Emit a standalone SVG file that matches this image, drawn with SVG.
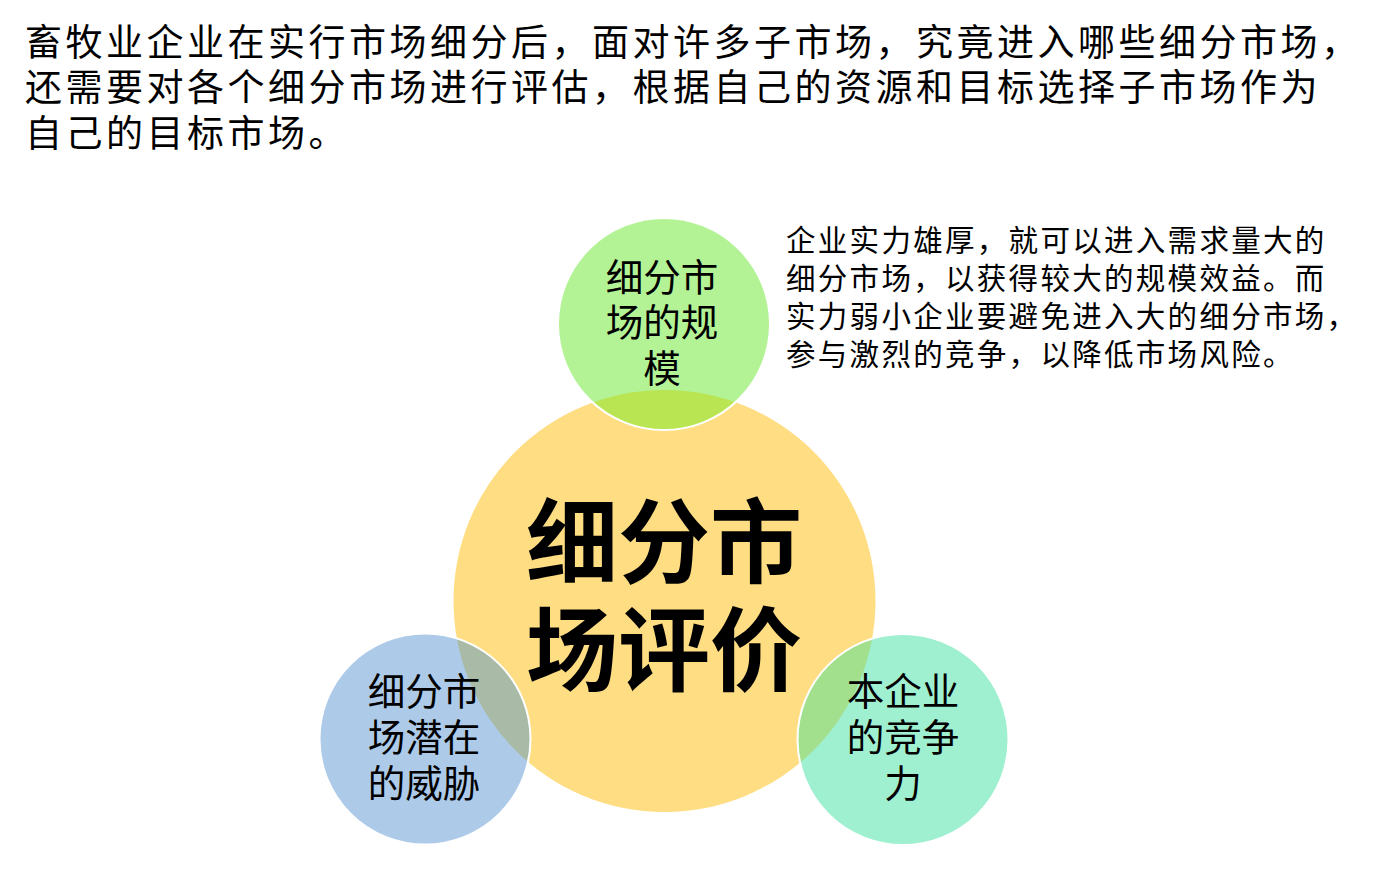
<svg xmlns="http://www.w3.org/2000/svg" width="1384" height="878" viewBox="0 0 1384 878">
  <style>
    .t { font-family: "Noto Sans CJK SC", "Noto Sans CJK JP", sans-serif; fill: #000; }
    .title { font-size: 37px; letter-spacing: 3.5px; }
    .note { font-size: 29.5px; letter-spacing: 2.3px; }
    .small { font-size: 37.5px; text-anchor: middle; }
    .big { font-size: 92px; font-weight: bold; text-anchor: middle; }
    .outline { fill: none; stroke: #ffffff; stroke-width: 2; }
  </style>
  <defs>
    <clipPath id="clipCenter">
      <circle cx="664.5" cy="601" r="211"/>
    </clipPath>
  </defs>
  <rect width="1384" height="878" fill="#ffffff"/>

  <g id="intro-text">
    <text class="t title" x="25" y="55.5">畜牧业企业在实行市场细分后，面对许多子市场，究竟进入哪些细分市场，</text>
    <text class="t title" x="25" y="101">还需要对各个细分市场进行评估，根据自己的资源和目标选择子市场作为</text>
    <text class="t title" x="25" y="146.5">自己的目标市场。</text>
  </g>

  <g id="note-text">
    <text class="t note" x="786" y="251">企业实力雄厚，就可以进入需求量大的</text>
    <text class="t note" x="786" y="289">细分市场，以获得较大的规模效益。而</text>
    <text class="t note" x="786" y="327">实力弱小企业要避免进入大的细分市场，</text>
    <text class="t note" x="786" y="364.5">参与激烈的竞争，以降低市场风险。</text>
  </g>

  <g id="node-center">
    <circle cx="664.5" cy="601" r="211" fill="#ffdd82"/>
    <text class="t big" x="664" y="576">细分市</text>
    <text class="t big" x="664" y="684">场评价</text>
  </g>

  <g id="node-size">
    <circle cx="664" cy="324" r="106" fill="#b3f396"/>
    <circle cx="664" cy="324" r="106" fill="#b9e553" clip-path="url(#clipCenter)"/>
    <text class="t small" x="662" y="290.5">细分市</text>
    <text class="t small" x="662" y="336">场的规</text>
    <text class="t small" x="662" y="381.5">模</text>
    <circle class="outline" cx="664" cy="324" r="106"/>
  </g>

  <g id="node-threat">
    <circle cx="425" cy="739" r="105.5" fill="#adcbe9"/>
    <circle cx="425" cy="739" r="105.5" fill="#a9bba6" clip-path="url(#clipCenter)"/>
    <text class="t small" x="424" y="704.5">细分市</text>
    <text class="t small" x="424" y="750.5">场潜在</text>
    <text class="t small" x="424" y="797">的威胁</text>
    <circle class="outline" cx="425" cy="739" r="105.5"/>
  </g>

  <g id="node-competitiveness">
    <circle cx="903" cy="739.5" r="105.5" fill="#9ff0d0"/>
    <circle cx="903" cy="739.5" r="105.5" fill="#a2e08e" clip-path="url(#clipCenter)"/>
    <text class="t small" x="903" y="704.5">本企业</text>
    <text class="t small" x="903" y="750.5">的竞争</text>
    <text class="t small" x="903" y="797">力</text>
    <circle class="outline" cx="903" cy="739.5" r="105.5"/>
  </g>
</svg>
